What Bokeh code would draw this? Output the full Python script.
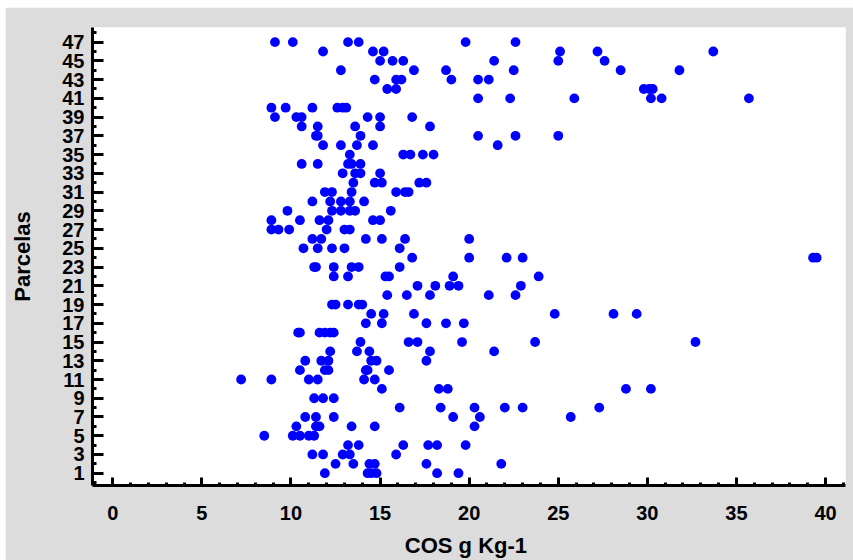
from bokeh.plotting import figure
from bokeh.models import FixedTicker, Range1d
from bokeh.embed import file_html
from bokeh.resources import INLINE

# Parcela (y) and COS g Kg-1 (x)
parcelas = (
    [47]*6 + [46]*6 + [45]*6 + [44]*6 + [43]*6 + [42]*5 + [41]*6 + [40]*6 +
    [39]*6 + [38]*5 + [37]*6 + [36]*5 + [35]*5 + [34]*5 + [33]*4 + [32]*5 +
    [31]*6 + [30]*5 + [29]*6 + [28]*6 + [27]*6 + [26]*6 + [25]*5 + [24]*6 +
    [23]*6 + [22]*6 + [21]*5 + [20]*5 + [19]*5 + [18]*6 + [17]*5 + [16]*6 +
    [15]*6 + [14]*5 + [13]*6 + [12]*6 + [11]*6 + [10]*5 + [9]*3 + [8]*6 +
    [7]*6 + [6]*6 + [5]*5 + [4]*6 + [3]*5 + [2]*6 + [1]*6
)
cos_g_kg = [
    9.1, 10.1, 13.2, 13.8, 19.8, 22.6,      # 47
    11.8, 14.6, 15.2, 25.1, 27.2, 33.7,     # 46
    15.0, 15.7, 16.3, 21.4, 25.0, 27.6,     # 45
    12.8, 16.9, 18.7, 22.5, 28.5, 31.8,     # 44
    14.7, 15.9, 16.2, 19.0, 20.5, 21.1,     # 43
    15.4, 15.9, 29.8, 30.1, 30.3,           # 42
    20.5, 22.3, 25.9, 30.2, 30.8, 35.7,     # 41
    8.9, 9.7, 11.2, 12.6, 12.9, 13.1,       # 40
    9.1, 10.3, 10.6, 14.3, 15.0, 16.8,      # 39
    10.6, 11.5, 13.6, 15.0, 17.8,           # 38
    11.4, 11.5, 13.9, 20.5, 22.6, 25.0,     # 37
    11.8, 12.8, 13.7, 14.6, 21.6,           # 36
    13.3, 16.3, 16.7, 17.4, 18.0,           # 35
    10.6, 11.5, 13.2, 13.4, 13.9,           # 34
    12.9, 13.6, 13.9, 15.0,                 # 33
    13.5, 14.7, 15.1, 17.2, 17.6,           # 32
    11.9, 12.3, 13.4, 15.9, 16.4, 16.6,     # 31
    11.2, 12.2, 12.8, 13.3, 14.1,           # 30
    9.8, 12.3, 12.8, 13.3, 13.6, 15.6,      # 29
    8.9, 10.5, 11.6, 12.1, 14.6, 15.0,      # 28
    8.9, 9.3, 9.9, 12.0, 13.0, 13.3,        # 27
    11.2, 11.7, 14.2, 15.1, 16.4, 20.0,     # 26
    10.7, 11.5, 12.3, 13.0, 16.1,           # 25
    16.8, 20.0, 22.1, 23.0, 39.3, 39.5,     # 24
    11.3, 11.4, 12.4, 13.4, 13.8, 16.1,     # 23
    12.4, 13.2, 15.3, 15.5, 19.1, 23.9,     # 22
    17.1, 18.1, 18.9, 19.4, 22.9,           # 21
    15.4, 16.5, 17.8, 21.1, 22.6,           # 20
    12.3, 12.5, 13.2, 13.8, 14.0,           # 19
    14.5, 15.2, 16.9, 24.8, 28.1, 29.4,     # 18
    14.2, 15.1, 17.6, 18.7, 19.7,           # 17
    10.4, 10.5, 11.6, 11.9, 12.2, 12.4,     # 16
    13.9, 16.6, 17.1, 19.6, 23.7, 32.7,     # 15
    12.2, 13.7, 14.4, 17.8, 21.4,           # 14
    10.8, 11.7, 12.1, 14.5, 14.8, 17.6,     # 13
    10.5, 11.9, 12.1, 14.2, 14.3, 15.5,     # 12
    7.2, 8.9, 11.0, 11.5, 14.1, 14.7,       # 11
    15.1, 18.3, 18.8, 28.8, 30.2,           # 10
    11.3, 11.8, 12.4,                       # 9
    16.1, 18.4, 20.3, 22.0, 23.0, 27.3,     # 8
    10.8, 11.4, 12.4, 19.1, 20.6, 25.7,     # 7
    10.3, 11.4, 11.6, 13.4, 14.7, 20.3,     # 6
    8.5, 10.1, 10.5, 11.0, 11.3,            # 5
    13.2, 13.8, 16.3, 17.7, 18.2, 19.8,     # 4
    11.2, 11.8, 12.9, 13.3, 15.9,           # 3
    12.5, 13.5, 14.4, 14.7, 17.6, 21.8,     # 2
    11.9, 14.3, 14.5, 14.8, 18.2, 19.4,     # 1
]

x_ticks = [0, 5, 10, 15, 20, 25, 30, 35, 40]
x_minor = list(range(0, 42))
y_ticks = list(range(1, 48, 2))
y_minor = list(range(0, 49, 2))

GRAY = "#dcdcdc"
FONT = "Liberation Sans"

p = figure(width=848, height=553, output_backend="svg", toolbar_location=None,
           x_range=Range1d(-1.14, 41.12), y_range=Range1d(-0.31, 48.56),
           min_border_left=87, min_border_right=8, min_border_top=20,
           min_border_bottom=74, margin=(7, 0, 0, 5))
p.border_fill_color = GRAY
p.background_fill_color = "white"
p.outline_line_color = None
p.xgrid.visible = False
p.ygrid.visible = False

p.scatter(cos_g_kg, parcelas, size=9.8, fill_color="#0000ff", line_color=None)

for ax in (p.xaxis[0], p.yaxis[0]):
    ax.axis_line_width = 3
    ax.axis_line_color = "black"
    ax.major_tick_line_width = 3
    ax.minor_tick_line_width = 3
    ax.major_tick_line_color = "black"
    ax.minor_tick_line_color = "black"
    ax.major_tick_out = 0
    ax.minor_tick_out = 0
    ax.major_label_text_font = FONT
    ax.major_label_text_font_style = "bold"
    ax.major_label_text_font_size = "20px"
    ax.major_label_text_color = "black"
    ax.axis_label_text_font = FONT
    ax.axis_label_text_font_style = "bold"
    ax.axis_label_text_font_size = "22px"
    ax.axis_label_text_color = "black"

p.xaxis.ticker = FixedTicker(ticks=x_ticks, minor_ticks=x_minor)
p.xaxis.major_tick_in = 8
p.xaxis.minor_tick_in = 3
p.xaxis.major_label_standoff = 20
p.xaxis.axis_label = "COS g  Kg-1"
p.xaxis.axis_label_standoff = 10

p.yaxis.ticker = FixedTicker(ticks=y_ticks, minor_ticks=y_minor)
p.yaxis.major_tick_in = 11
p.yaxis.minor_tick_in = 4
p.yaxis.major_label_standoff = 8
p.yaxis.axis_label = "Parcelas"
p.yaxis.axis_label_standoff = 24

open("out.html", "w").write(file_html(p, INLINE))
